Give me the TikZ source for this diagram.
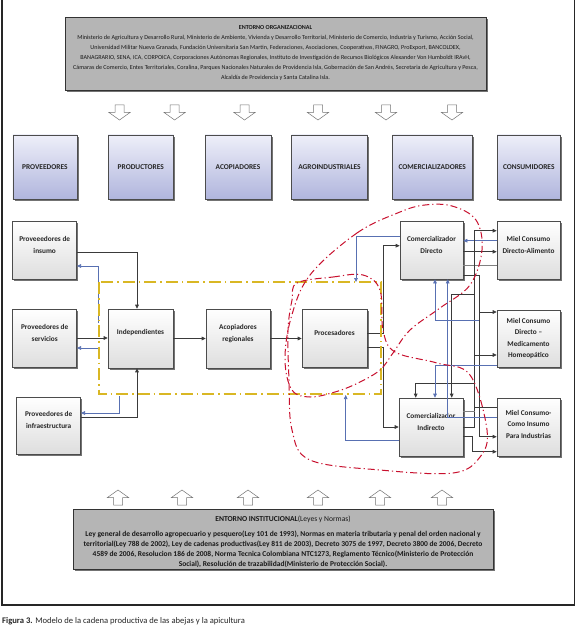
\documentclass[tikz,border=0pt]{standalone}
\usepackage{fontspec}
\setmainfont{Carlito}
\usetikzlibrary{arrows.meta,shadows,calc}
\definecolor{hdrTop}{HTML}{EEEFF9}
\definecolor{hdrBot}{HTML}{B0B5DD}
\definecolor{envGrey}{HTML}{B5B5B5}
\definecolor{lineDark}{HTML}{3A3A3A}
\definecolor{lineBlue}{HTML}{5870B2}
\definecolor{yelC}{HTML}{D9B724}
\definecolor{redC}{HTML}{C8102E}
\begin{document}
\begin{tikzpicture}[x=1pt,y=-1pt,
  shadowed/.style={drop shadow={shadow xshift=1.6pt,shadow yshift=-1.6pt,opacity=0.55,fill=black}},
  hdr/.style={shadowed,draw=black!70,line width=0.6pt,top color=hdrTop,bottom color=hdrBot,minimum height=64pt,inner sep=1pt,font=\fontsize{7.4}{8}\selectfont\bfseries,text=black!85},
  box/.style={shadowed,draw=black!70,line width=0.6pt,top color=white,bottom color=black!13,minimum width=64pt,minimum height=58pt,inner sep=0pt},
  btext/.style={align=center,font=\fontsize{7.3}{11.5}\selectfont\bfseries,text=black!85,inner sep=0pt},
  envbox/.style={shadowed,draw=black!80,line width=0.6pt,fill=envGrey,inner sep=0pt},
  blk/.style={draw=black!55,fill=white,line width=0.5pt},
  dk/.style={draw=lineDark,line width=0.7pt},
  dka/.style={dk,-{Triangle[length=4pt,width=3.6pt]}},
  bl/.style={draw=lineBlue,line width=0.6pt},
  bla/.style={bl,-{Triangle[length=4pt,width=3.6pt]}},
  gr/.style={draw=black!50,line width=0.6pt},
  yelbox/.style={draw=yelC,line width=2.2pt,dash pattern=on 12pt off 4pt on 1.5pt off 4pt},
  redloop/.style={draw=redC,line width=1pt,dash pattern=on 7pt off 3pt on 1.2pt off 3pt}]
\useasboundingbox (0,0) rectangle (576,631);
\fill[white] (0,0) rectangle (576,631);

% frame
\draw[line width=1.2pt,black!85] (2,0) -- (2,605) -- (574.5,605) -- (574.5,0);

% organisational environment
\node[envbox,minimum width=421pt,minimum height=73pt] (orgBox) at (275.5,53.5) {};
\node[align=center,font=\fontsize{6.1}{10}\selectfont,text=black!90,inner sep=0pt] (orgText) at (275.5,52.5) {{\bfseries ENTORNO ORGANIZACIONAL}\\
Ministerio de Agricultura y Desarrollo Rural, Ministerio de Ambiente, Vivienda y Desarrollo Territorial, Ministerio de Comercio, Industria y Turismo, Acción Social,\\
Universidad Militar Nueva Granada, Fundación Universitaria San Martin, Federaciones, Asociaciones, Cooperativas, FINAGRO, ProExport, BANCOLDEX,\\
BANAGRARIO, SENA, ICA, CORPOICA, Corporaciones Autónomas Regionales, Instituto de Investigación de Recursos Biológicos Alexander Von Humboldt IRAvH,\\
Cámaras de Comercio, Entes Territoriales, Coralina, Parques Nacionales Naturales de Providencia Isla, Gobernación de San Andrés, Secretaria de Agricultura y Pesca,\\
Alcaldía de Providencia y Santa Catalina Isla.};

% down arrows
\foreach \cx in {119.5,174.6,244.5,318,386,452}
  \draw[blk] ({\cx-4.5},105) -- ({\cx+4.5},105) -- ({\cx+4.5},112.5) -- ({\cx+10.5},112.5) -- (\cx,120) -- ({\cx-10.5},112.5) -- ({\cx-4.5},112.5) -- cycle;

% header boxes
\node[hdr,minimum width=64pt] (hProv) at (44.9,167) {PROVEEDORES};
\node[hdr,minimum width=65.5pt] (hProd) at (140.8,167) {PRODUCTORES};
\node[hdr,minimum width=66pt] (hAcop) at (238,167) {ACOPIADORES};
\node[hdr,minimum width=76pt] (hAgro) at (329.5,167) {AGROINDUSTRIALES};
\node[hdr,minimum width=79.4pt] (hCom) at (432.3,167) {COMERCIALIZADORES};
\node[hdr,minimum width=63.6pt] (hCons) at (528.8,167) {CONSUMIDORES};

% process boxes
\node[box] (insumo) at (44.7,250) {};
\node[box] (serv) at (44.7,338) {};
\node[box,minimum height=57pt] (infra) at (48.7,425.5) {};
\node[box,minimum width=65pt,minimum height=59pt] (indep) at (140.5,338.5) {};
\node[box,minimum height=59pt] (acop) at (238,338.5) {};
\node[box,minimum width=65pt] (proc) at (334.5,338) {};
\node[box,minimum width=63pt] (comDir) at (431.5,250) {};
\node[box] (comInd) at (431,427) {};
\node[box,minimum width=63pt] (mielA) at (528.5,250) {};
\node[box,minimum width=63pt,minimum height=57pt] (mielM) at (528.5,338.5) {};
\node[box,minimum width=63pt] (mielI) at (528.5,427) {};

\node[btext] (insumoT) at ([yshift=5pt]insumo.center) {Proveeedores de\\insumo};
\node[btext] (servT) at ([yshift=5pt]serv.center) {Proveedores de\\servicios};
\node[btext] (infraT) at ([yshift=5.5pt]infra.center) {Proveedores de\\infraestructura};
\node[btext] (indepT) at ([yshift=6pt]indep.center) {Independientes};
\node[btext] (acopT) at ([yshift=5pt]acop.center) {Acopiadores\\regionales};
\node[btext] (procT) at ([yshift=5pt]proc.center) {Procesadores};
\node[btext] (comDirT) at ([yshift=5pt]comDir.center) {Comercializador\\Directo};
\node[btext] (comIndT) at ([yshift=5pt]comInd.center) {Comercializador\\Indirecto};
\node[btext] (mielAT) at ([yshift=5pt]mielA.center) {Miel Consumo\\Directo-Alimento};
\node[btext] (mielMT) at (mielM.center) {Miel Consumo\\Directo --\\Medicamento\\Homeopático};
\node[btext] (mielIT) at ([yshift=3pt]mielI.center) {Miel Consumo-\\Como Insumo\\Para Industrias};

% helper coordinates
\coordinate (fb1) at (98,323);
\coordinate (fb2) at (98,348);
\coordinate (fb3) at (119.3,396);
\coordinate (fbTop) at (356,282);
\coordinate (fbBot) at (345.7,395);
\coordinate (j3) at (479,312);
\coordinate (j4) at (479,436.7);
\coordinate (b1) at (479,320);
\coordinate (k1) at (474.5,427);
\coordinate (k2) at (474.5,230.7);
\coordinate (k3) at (474.5,355);
\coordinate (k4) at (474.5,383.3);
\coordinate (k5) at (474.5,294);
\coordinate (k6) at (474.5,407);

% left connectors
\draw[dka] ([yshift=-2pt]insumo.east) -| ([xshift=-3.5pt]indep.north);
\draw[bla] (fb1) |- ([yshift=-16pt]insumo.east);
\draw[dka] (serv.east) -- (serv.east -| indep.west);
\draw[bla] (fb2) -- (fb2 -| serv.east);
\draw[dka] ([yshift=7.8pt]infra.east) -| ([xshift=-3.5pt]indep.south);
\draw[bla] (fb3) |- ([yshift=12.5pt]infra.east);
\draw[dka] (indep.east) -- (acop.west);
\draw[dka] (acop.east) -- (acop.east -| proc.west);

% middle connectors
\draw[dka] ([yshift=5pt]proc.east) -- ++(16,0) |- ([yshift=4.3pt]comDir.west);
\draw[dka] ([yshift=-9.7pt]proc.east) -- ++(16,0) |- (comInd.west);
\draw[bla] ([yshift=13.3pt]comDir.west) -| (fbTop);
\draw[bla] ([yshift=-13.7pt]comInd.west) -| (fbBot);

% right connectors
\draw[dka] ([yshift=-1.7pt]comDir.east) -- ([yshift=-1.7pt]mielA.west);
\draw[bla] ([yshift=9.3pt]mielA.west) -- ([yshift=9.3pt]comDir.east);
\draw[gr] ([yshift=-15pt]comDir.east) -- ([yshift=-15pt]mielA.west);
\draw[dk] ([yshift=-25pt]comDir.east) -| (j4);
\draw[dka] (j3) -- (j3 -| mielM.west);
\draw[dka] (j4) -- (j4 -| mielI.west);
\draw[dka] (comInd.east) -- (k1) -- (k2) -- (k2 -| mielA.west);
\draw[dka] (k3) -- (k3 -| mielM.west);
\draw[dka] (k4) -| ([xshift=-15.3pt]comInd.north);
\draw[dka] (k5) -| ([xshift=20.7pt]comInd.north);
\draw[bla] (b1) -| ([xshift=3.5pt]comDir.south);
\draw[bla] ([yshift=-26.5pt]mielM.west) -| ([xshift=4pt]comInd.north);
\draw[bla] ([yshift=10pt]mielI.west) -| ([xshift=16.2pt]comDir.south);
\draw[gr] ([yshift=15.3pt]comInd.east) -- ([yshift=15.3pt]comInd.east -| k1);
\draw[dk] (k6) -- (k6 -| mielI.west);
\draw[dka] ([yshift=-9.7pt]comInd.east) -- ++(8.7,0) |- ([yshift=-24.7pt]mielI.west);

% yellow cluster
\draw[yelbox] (99,282) rectangle (381,394);

% red loops
\draw[redloop] plot[smooth cycle,tension=0.6] coordinates {(400,212) (357,233) (310,275) (291,318) (285,360) (292,390) (310,397) (335,392) (358,383) (380,370) (393,353) (410,330) (440,308) (470,285) (482,250) (476,220) (452,206) (425,205)};
\draw[redloop] plot[smooth cycle,tension=0.6] coordinates {(297,283) (333,277) (363,275) (380,290) (383,330) (395,352) (437,363) (470,375) (487,430) (480,457) (453,473) (380,470) (310,460) (292,430) (289,380) (288,330) (292,300)};

% up arrows
\foreach \cx in {118,182,248,318,380,442}
  \draw[blk] ({\cx-4.5},505) -- ({\cx+4.5},505) -- ({\cx+4.5},497.5) -- ({\cx+10.5},497.5) -- (\cx,490) -- ({\cx-10.5},497.5) -- ({\cx-4.5},497.5) -- cycle;

% institutional environment
\node[envbox,minimum width=420pt,minimum height=60pt] (instBox) at (283,539) {};
\node[font=\fontsize{7.6}{8}\selectfont,text=black!90,inner sep=0pt] (instTitle) at (283,519) {{\bfseries ENTORNO INSTITUCIONAL}(Leyes y Normas)};
\node[align=center,font=\fontsize{7.5}{10}\selectfont\bfseries,text=black!90,inner sep=0pt] (instText) at (283,549.5) {Ley general de desarrollo agropecuario y pesquero(Ley 101 de 1993), Normas en materia tributaria y penal del orden nacional y\\
territorial(Ley 788 de 2002), Ley de cadenas productivas(Ley 811 de 2003), Decreto 3075 de 1997, Decreto 3800 de 2006, Decreto\\
4589 de 2006, Resolucion 186 de 2008, Norma Tecnica Colombiana NTC1273, Reglamento Técnico(Ministerio de Protección\\
Social), Resolución de trazabilidad(Ministerio de Protección Social).};

% caption
\node[anchor=west,font=\fontsize{8.6}{9}\selectfont,text=black!85,inner sep=0pt] (caption) at (2,621) {{\bfseries Figura 3.} Modelo de la cadena productiva de las abejas y la apicultura};
\end{tikzpicture}
\end{document}
